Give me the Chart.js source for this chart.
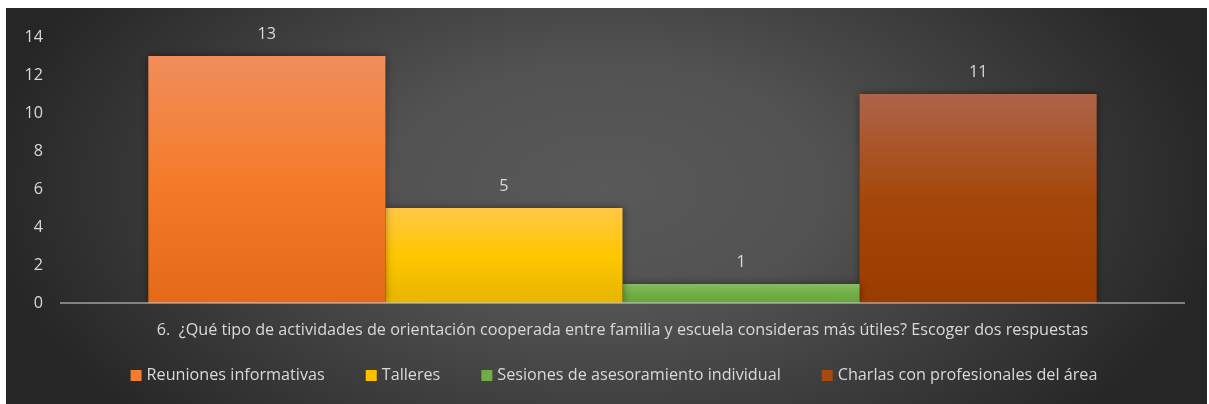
<!DOCTYPE html>
<html>
<head>
<meta charset="utf-8">
<script src="https://cdn.jsdelivr.net/npm/chart.js@4"></script>
<style>
  html, body { margin: 0; padding: 0; background: #fff; }
  #wrap { position: absolute; left: 6px; top: 8px; width: 1201px; height: 396px; }
</style>
</head>
<body>
<div id="wrap"><canvas id="chart"></canvas></div>
<script>
// chart data
const categories = ['6.  ¿Qué tipo de actividades de orientación cooperada entre familia y escuela consideras más útiles? Escoger dos respuestas'];
const seriesNames = ['Reuniones informativas', 'Talleres', 'Sesiones de asesoramiento individual', 'Charlas con profesionales del área'];
const reuniones = [13];
const talleres = [5];
const sesiones = [1];
const charlas = [11];
const yTicks = [0, 2, 4, 6, 8, 10, 12, 14];

// gradient stops per series: top, middle, bottom
const GRADS = [
  ['#f08e5c', '#f47b2a', '#e46a17'],
  ['#ffc845', '#ffc600', '#e7b500'],
  ['#86bd60', '#72ae46', '#65a53a'],
  ['#ae6449', '#a5470b', '#9a3c00'],
];
const SOLID = ['#f07d30', '#ffc000', '#70ad47', '#a8490f'];
const FONT = '"Open Sans"';
const FS = 16.2;
const TEXT = '#d9d9d9';

function barGradient(i) {
  return ctx => {
    const area = ctx.chart.chartArea;
    if (!area) return SOLID[i];
    const y = ctx.chart.scales.y;
    const value = ctx.raw || 0;
    const top = y.getPixelForValue(value);
    const g = ctx.chart.ctx.createLinearGradient(0, top, 0, area.bottom);
    g.addColorStop(0, GRADS[i][0]);
    g.addColorStop(0.5, GRADS[i][1]);
    g.addColorStop(1, GRADS[i][2]);
    return g;
  };
}

const bgPlugin = {
  id: 'bg',
  beforeDraw(chart) {
    const { ctx, width, height } = chart;
    ctx.save();
    ctx.fillStyle = '#262626';
    ctx.fillRect(0, 0, width, height);
    const cx = width * 0.5, cy = height * 0.45;
    const rx = width * 0.52, ry = height * 0.9;
    ctx.translate(cx, cy);
    ctx.scale(rx / ry, 1);
    const g = ctx.createRadialGradient(0, 0, 0, 0, 0, ry);
    g.addColorStop(0, '#595959');
    g.addColorStop(0.35, '#525252');
    g.addColorStop(1, '#262626');
    ctx.fillStyle = g;
    ctx.fillRect(-rx, -cy, rx * 2, height);
    ctx.restore();
  },
  beforeDatasetsDraw(chart) {
    chart.ctx.save();
    chart.ctx.shadowColor = 'rgba(0,0,0,0.45)';
    chart.ctx.shadowBlur = 8;
  },
  afterDatasetsDraw(chart) {
    const { ctx, chartArea } = chart;
    ctx.restore();
    // axis line on top of bars
    ctx.save();
    ctx.strokeStyle = 'rgba(200,200,200,0.55)';
    ctx.lineWidth = 2;
    ctx.beginPath();
    ctx.moveTo(chartArea.left, chartArea.bottom);
    ctx.lineTo(chartArea.right, chartArea.bottom);
    ctx.stroke();
    // value labels
    ctx.fillStyle = TEXT;
    ctx.font = FS + 'px ' + FONT;
    ctx.textAlign = 'center';
    ctx.textBaseline = 'middle';
    chart.data.datasets.forEach((ds, i) => {
      const meta = chart.getDatasetMeta(i);
      meta.data.forEach((bar, j) => {
        ctx.fillText(String(ds.data[j]), bar.x, bar.y - 22);
      });
    });
    ctx.restore();
  },
  // legend drawn by hand so its row sits exactly where the original has it
  afterDraw(chart) {
    const { ctx } = chart;
    const box = 11, gap = 5, itemGap = 41, y = 367.5;
    ctx.save();
    ctx.font = FS + 'px ' + FONT;
    ctx.textBaseline = 'middle';
    ctx.textAlign = 'left';
    const items = chart.data.datasets.map((ds, i) => ({ text: ds.label, color: SOLID[i], w: box + gap + ctx.measureText(ds.label).width }));
    const total = items.reduce((s, it) => s + it.w, 0) + itemGap * (items.length - 1);
    let x = chart.width / 2 + 7.5 - total / 2;
    items.forEach(it => {
      ctx.fillStyle = it.color;
      ctx.fillRect(x, y - box / 2, box, box);
      ctx.fillStyle = TEXT;
      ctx.fillText(it.text, x + box + gap, y);
      x += it.w + itemGap;
    });
    ctx.restore();
  }
};

new Chart(document.getElementById('chart'), {
  type: 'bar',
  data: {
    labels: categories,
    datasets: [
      { label: seriesNames[0], data: reuniones, backgroundColor: barGradient(0) },
      { label: seriesNames[1], data: talleres, backgroundColor: barGradient(1) },
      { label: seriesNames[2], data: sesiones, backgroundColor: barGradient(2) },
      { label: seriesNames[3], data: charlas, backgroundColor: barGradient(3) },
    ],
  },
  options: {
    responsive: true,
    maintainAspectRatio: false,
    animation: false,
    layout: { padding: { top: 29, right: 22, left: 0, bottom: 61 } },
    datasets: { bar: { barPercentage: 1, categoryPercentage: 0.843, borderWidth: 0 } },
    plugins: {
      tooltip: { enabled: false },
      legend: { display: false },
    },
    scales: {
      x: {
        grid: { display: false, drawTicks: false },
        border: { display: false },
        ticks: { color: TEXT, font: { family: FONT, size: FS }, padding: 17.5, maxRotation: 0 },
        afterFit(s) { s.height = 40; },
      },
      y: {
        min: 0,
        max: 14,
        afterBuildTicks(s) { s.ticks = yTicks.map(v => ({ value: v })); },
        grid: { display: false, drawTicks: false },
        border: { display: false },
        ticks: { color: TEXT, font: { family: FONT, size: FS }, padding: 17 },
        afterFit(s) { s.width = 54; },
      },
    },
  },
  plugins: [bgPlugin],
});
</script>
</body>
</html>
